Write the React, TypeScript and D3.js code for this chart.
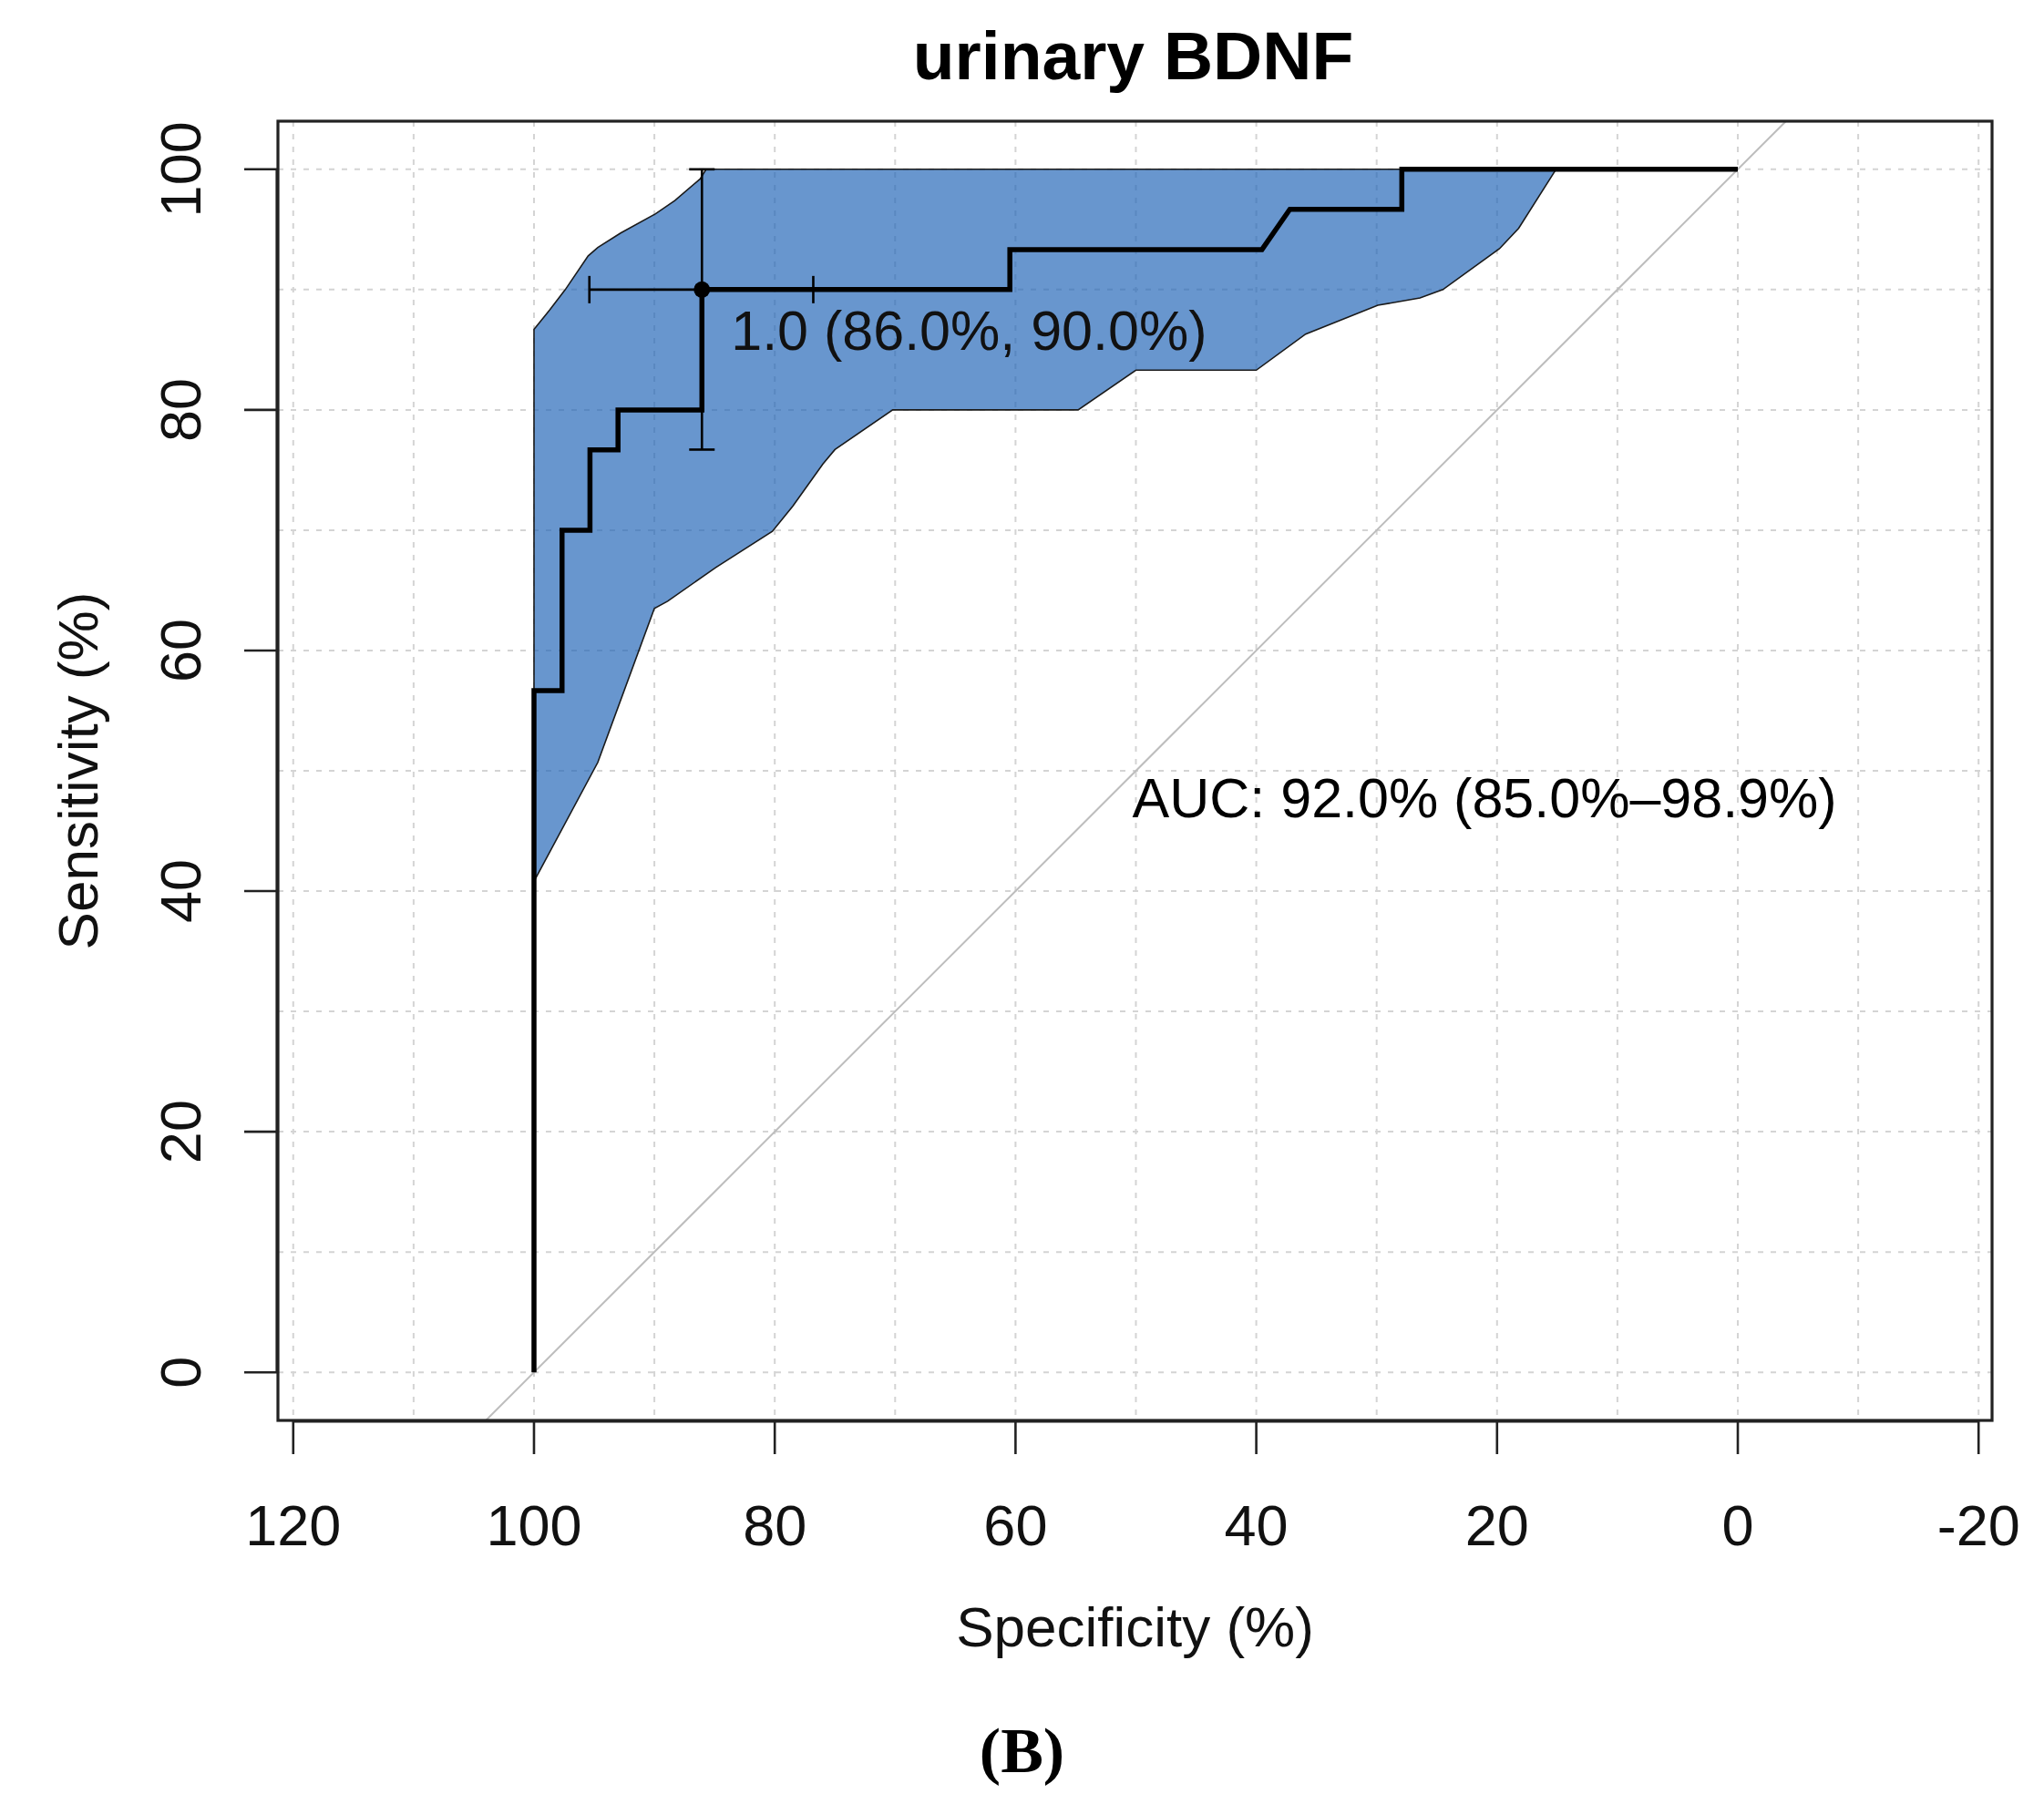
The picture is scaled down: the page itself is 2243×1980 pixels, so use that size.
import * as d3 from 'd3'
import React from 'react'

// ROC curve (specificity %, sensitivity %)
const rocSpec = [100, 100, 97.67, 97.67, 95.35, 95.35, 93.02, 93.02, 86.05, 86.05, 60.47, 60.47, 39.53, 37.21, 27.91, 27.91, 0]
const rocSens = [0, 56.67, 56.67, 70, 70, 76.67, 76.67, 80, 80, 90, 90, 93.33, 93.33, 96.67, 96.67, 100, 100]

// sensitivity confidence band, upper edge
const ciUpSpec = [100, 98.7, 97.4, 95.5, 94.7, 92.8, 89.9, 88.3, 86.2, 85.7, 15.1]
const ciUpSens = [86.7, 88.3, 90.0, 92.8, 93.5, 94.7, 96.3, 97.4, 99.2, 100, 100]
// lower edge
const ciLowSpec = [100, 94.7, 90.0, 88.9, 84.9, 80.2, 78.5, 76.0, 75.0, 70.2, 54.8, 50.0, 40.0, 35.9, 29.9, 26.4, 24.5, 19.8, 18.2, 15.1]
const ciLowSens = [40.8, 50.7, 63.5, 64.1, 66.9, 69.9, 72.0, 75.5, 76.7, 80.0, 80.0, 83.3, 83.3, 86.3, 88.7, 89.3, 90.0, 93.4, 95.1, 100]

// best threshold with its CI
const thres = { spec: 86.05, sens: 90.0, specLo: 76.8, specHi: 95.4, sensLo: 76.7, sensHi: 100 }
const thresLabel = '1.0 (86.0%, 90.0%)'
const aucLabel = 'AUC: 92.0% (85.0%–98.9%)'

const xTicks = [120, 100, 80, 60, 40, 20, 0, -20]
const yTicks = [0, 20, 40, 60, 80, 100]
const xGrid = d3.range(120, -21, -10)
const yGrid = d3.range(0, 101, 10)

const W = 2243
const H = 1980
const box = { left: 305, right: 2186, top: 133, bottom: 1559 }
const sans = '"Liberation Sans", Arial, Helvetica, sans-serif'

const App = () => {
    const x = d3.scaleLinear().domain([121.27, -21.12]).range([box.left, box.right])
    const y = d3.scaleLinear().domain([-4, 104]).range([box.bottom, box.top])

    const line = d3.line<[number, number]>().x(d => x(d[0])).y(d => y(d[1]))
    const roc = rocSpec.map((s, i) => [s, rocSens[i]] as [number, number])
    const upper = ciUpSpec.map((s, i) => [s, ciUpSens[i]] as [number, number])
    const lower = ciLowSpec.map((s, i) => [s, ciLowSens[i]] as [number, number]).reverse()
    const band = [...upper, ...lower]

    const cx = (box.left + box.right) / 2
    const tick = 37

    return (
        <>
            <style>{`body{margin:0}`}</style>
            <svg width={W} height={H} viewBox={`0 0 ${W} ${H}`} style={{ display: 'block', background: '#fff' }}>
                {/* grid */}
                <g stroke="#d4d4d4" strokeWidth={2} strokeDasharray="6 8">
                    {xGrid.map(v => (
                        <line key={'gx' + v} x1={x(v)} x2={x(v)} y1={box.top} y2={box.bottom} />
                    ))}
                    {yGrid.map(v => (
                        <line key={'gy' + v} x1={box.left} x2={box.right} y1={y(v)} y2={y(v)} />
                    ))}
                </g>

                {/* CI band */}
                <path d={line(band) + 'Z'} fill="#1c61b6" fillOpacity={0.667} stroke="#1a1a1a" strokeWidth={1.6} />

                {/* chance diagonal */}
                <line x1={x(104)} y1={y(-4)} x2={x(-4)} y2={y(104)} stroke="#bdbdbd" strokeWidth={2} />

                {/* ROC curve */}
                <path d={line(roc) || ''} fill="none" stroke="#000" strokeWidth={5.5} strokeLinejoin="miter" />

                {/* threshold CI bars */}
                <g stroke="#000" strokeWidth={2.6}>
                    <line x1={x(thres.specHi)} x2={x(thres.specLo)} y1={y(thres.sens)} y2={y(thres.sens)} />
                    <line x1={x(thres.specHi)} x2={x(thres.specHi)} y1={y(thres.sens) - 15} y2={y(thres.sens) + 15} />
                    <line x1={x(thres.specLo)} x2={x(thres.specLo)} y1={y(thres.sens) - 15} y2={y(thres.sens) + 15} />
                    <line x1={x(thres.spec)} x2={x(thres.spec)} y1={y(thres.sensLo)} y2={y(thres.sensHi)} />
                    <line x1={x(thres.spec) - 14} x2={x(thres.spec) + 14} y1={y(thres.sensLo)} y2={y(thres.sensLo)} />
                    <line x1={x(thres.spec) - 14} x2={x(thres.spec) + 14} y1={y(thres.sensHi)} y2={y(thres.sensHi)} />
                </g>
                <circle cx={x(thres.spec)} cy={y(thres.sens)} r={9} fill="#000" />
                <text x={x(thres.spec) + 32} y={y(thres.sens) + 66} fontFamily={sans} fontSize={61} fill="#111">
                    {thresLabel}
                </text>

                <text x={x(50.3)} y={y(46.1)} fontFamily={sans} fontSize={61} fill="#000">
                    {aucLabel}
                </text>

                {/* box */}
                <rect x={box.left} y={box.top} width={box.right - box.left} height={box.bottom - box.top}
                    fill="none" stroke="#222" strokeWidth={3.2} />

                {/* x axis */}
                <g stroke="#222" strokeWidth={2.6}>
                    <line x1={x(120)} x2={x(-20)} y1={box.bottom + 1} y2={box.bottom + 1} strokeWidth={3.2} />
                    {xTicks.map(v => (
                        <line key={'tx' + v} x1={x(v)} x2={x(v)} y1={box.bottom} y2={box.bottom + tick} />
                    ))}
                </g>
                <g fontFamily={sans} fontSize={63} fill="#111" textAnchor="middle">
                    {xTicks.map(v => (
                        <text key={'lx' + v} x={x(v)} y={1696}>{v}</text>
                    ))}
                </g>

                {/* y axis */}
                <g stroke="#222" strokeWidth={2.6}>
                    <line x1={box.left - 1} x2={box.left - 1} y1={y(0)} y2={y(100)} strokeWidth={3.2} />
                    {yTicks.map(v => (
                        <line key={'ty' + v} x1={box.left - tick} x2={box.left} y1={y(v)} y2={y(v)} />
                    ))}
                </g>
                <g fontFamily={sans} fontSize={63} fill="#111" textAnchor="middle">
                    {yTicks.map(v => (
                        <text key={'ly' + v} transform={`translate(220 ${y(v)}) rotate(-90)`}>{v}</text>
                    ))}
                </g>

                {/* titles */}
                <text x={cx - 2} y={87} fontFamily={sans} fontSize={75} fontWeight="bold" textAnchor="middle" fill="#000">
                    urinary BDNF
                </text>
                <text x={cx} y={1807} fontFamily={sans} fontSize={62} textAnchor="middle" fill="#111">
                    Specificity (%)
                </text>
                <text transform={`translate(107 ${y(50)}) rotate(-90)`} fontFamily={sans} fontSize={62}
                    textAnchor="middle" fill="#111">
                    Sensitivity (%)
                </text>
                <text x={W / 2} y={1945} fontFamily='"Liberation Serif", "Times New Roman", serif' fontSize={70}
                    fontWeight="bold" textAnchor="middle" fill="#000">
                    (B)
                </text>
            </svg>
        </>
    )
}

export default App
